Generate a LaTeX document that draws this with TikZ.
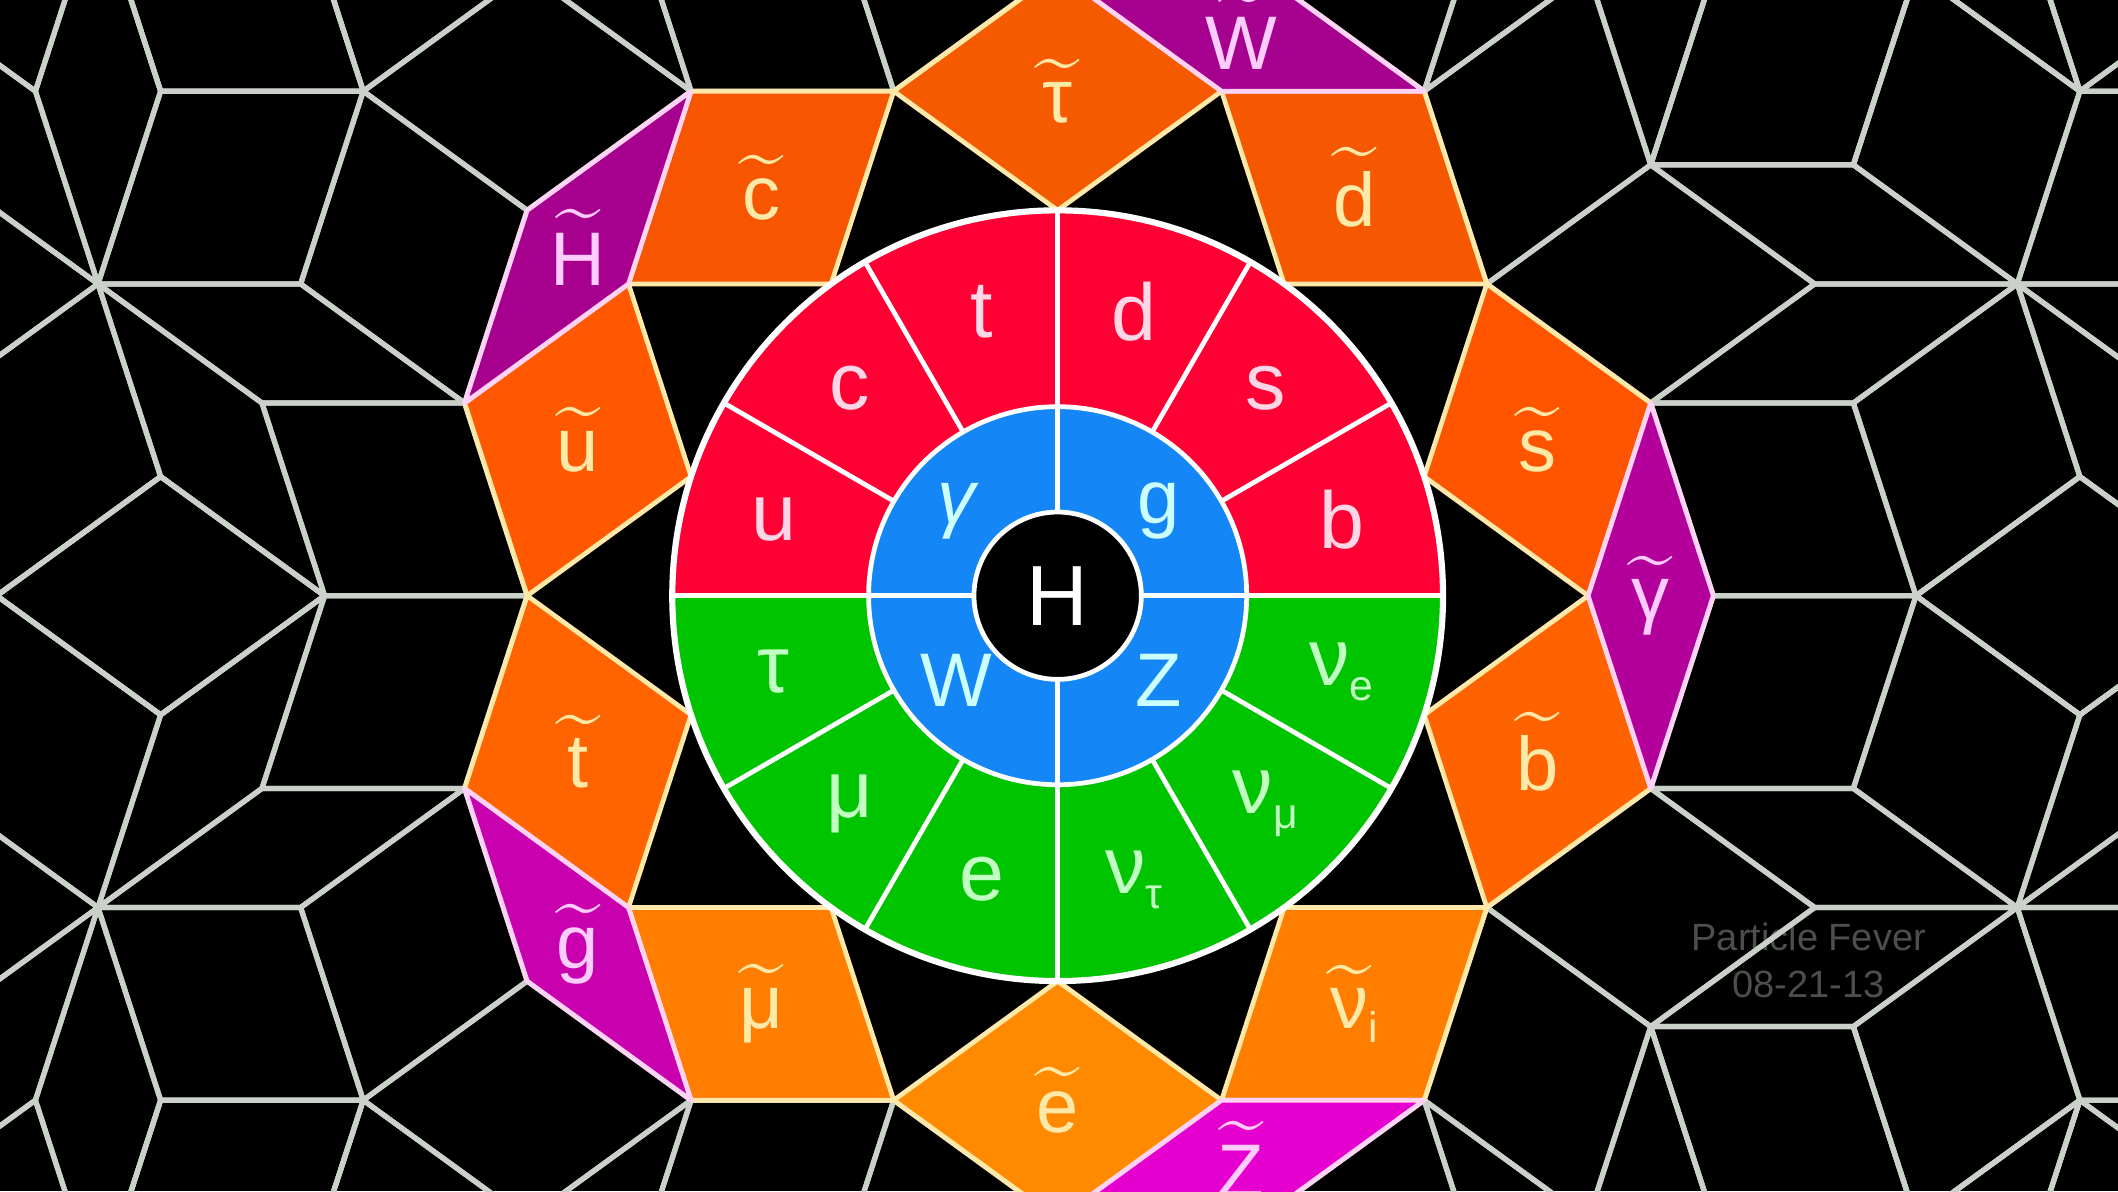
\documentclass[tikz,border=0pt]{standalone}
\usepackage{amsmath}
\usepackage{fontspec}
\setmainfont{Liberation Sans}

\definecolor{bgline}{HTML}{C9D1C9}
\definecolor{quarkred}{HTML}{FF0035}
\definecolor{leptongreen}{HTML}{00C400}
\definecolor{bosonblue}{HTML}{1486F5}
\definecolor{sqtrim}{HTML}{FFE8A8}
\definecolor{inotrim}{HTML}{FFD2F6}
\definecolor{sqtext}{HTML}{FFE9A6}
\definecolor{inotext}{HTML}{FFCCFF}
\definecolor{quarktext}{HTML}{FFD6E6}
\definecolor{leptontext}{HTML}{C2FFC2}
\definecolor{bosontext}{HTML}{CCFFFF}
\definecolor{wmgray}{HTML}{4B504B}
% squark and slepton tiles, top to bottom
\definecolor{sq18}{HTML}{FF5500}
\definecolor{sq54}{HTML}{F55800}
\definecolor{sq90}{HTML}{F55A00}
\definecolor{sq126}{HTML}{F85500}
\definecolor{sq162}{HTML}{FF5800}
\definecolor{sq198}{HTML}{FF6400}
\definecolor{sq234}{HTML}{FF7E00}
\definecolor{sq270}{HTML}{FF8A00}
\definecolor{sq306}{HTML}{FF7E00}
\definecolor{sq342}{HTML}{FF6200}
% gaugino and higgsino tiles
\definecolor{ino0}{HTML}{B3009B}
\definecolor{ino72}{HTML}{A6008E}
\definecolor{ino144}{HTML}{A8008E}
\definecolor{ino216}{HTML}{C800AE}
\definecolor{ino288}{HTML}{E600CF}

\newcommand{\lowsub}[1]{\raisebox{-0.35ex}{\fontsize{9}{9}\selectfont #1}}
\newcommand{\sptl}[1]{$\widetilde{\hbox{#1}}$}

\tikzset{
  tileline/.style={draw=bgline, line width=1.1pt, line join=round},
  sfermion/.style={draw=sqtrim, line width=1pt, line join=round},
  ino/.style={draw=inotrim, line width=1pt, line join=round},
  ringline/.style={draw=white, line width=1pt},
  sqlabel/.style={text=sqtext, font=\fontsize{16}{16}\selectfont},
  inolabel/.style={text=inotext, font=\fontsize{16}{16}\selectfont},
  quarklabel/.style={text=quarktext, font=\fontsize{17}{17}\selectfont},
  leptonlabel/.style={text=leptontext, font=\fontsize{17}{17}\selectfont},
  bosonlabel/.style={text=bosontext, font=\fontsize{16}{16}\selectfont},
}

\begin{document}
\begin{tikzpicture}[x=1.5cm, y=1.5cm]
  \useasboundingbox (-5.22,-2.94) rectangle (5.2333,2.94);
  \fill[black] (-5.22,-2.94) rectangle (5.2333,2.94);
  \clip (-5.22,-2.94) rectangle (5.2333,2.94);

  % Watermark
  \node[text=wmgray, font=\fontsize{8}{10}\selectfont, align=center] (credit) at (3.707,-1.80) {Particle Fever\\08-21-13};

  % Background tiling: one tenth of it, turned and mirrored
  \foreach \s in {1,-1}{
    \foreach \r in {0,72,...,288}{
      \begin{scope}[rotate=\r, yscale=\s]
        \foreach \x/\y/\i/\j in {2.1180/1.5388/1/9, 4.7361/1.5388/4/5, 4.7361/1.5388/5/6,
            2.9271/0.9511/0/8, 4.7361/1.5388/6/8, 4.7361/1.5388/8/9, 4.7361/1.5388/9/0,
            4.7361/1.5388/0/2, 4.7361/1.5388/2/4, 3.9271/2.1266/2/5, 5.0451/2.4899/0/1,
            5.0451/2.4899/1/3, 5.0451/2.4899/3/4, 4.2361/0/1/9, 5.5451/0.9511/0/8}
          \draw[tileline] (\x,\y) -- ++(36*\i:1) -- ++(36*\j:1) -- ++(36*\i+180:1) -- cycle;
      \end{scope}
    }
  }

  % Squarks and sleptons (fat tiles)
  \foreach \a/\lab in {18/{\sptl{s}}, 54/{\sptl{d}}, 90/{\sptl{τ}}, 126/{\sptl{c}}, 162/{\sptl{u}},
      198/{\sptl{t}}, 234/{\sptl{μ}}, 270/{\sptl{e}}, 306/{\sptl{ν}\lowsub{i}}, 342/{\sptl{b}}}{
    \filldraw[sfermion, fill=sq\a] (\a:1.902113) -- ++(\a+54:1) -- ++(\a-54:1) -- ++(\a+234:1) -- cycle;
    \node[sqlabel] (sq-\a) at (\a:2.489898) {\lab};
  }

  % Gauginos and higgsino (thin tiles)
  \foreach \a/\lab in {0/{\sptl{γ}}, 72/{\sptl{W}}, 144/{\sptl{H}}, 216/{\sptl{g}}, 288/{\sptl{Z}}}{
    \filldraw[ino, fill=ino\a] (\a:2.618034) -- ++(\a+72:1) -- ++(\a-72:1) -- ++(\a+252:1) -- cycle;
    \node[inolabel] (ino-\a) at (\a:2.927051) {\lab};
  }

  % Quarks, leptons, bosons
  \fill[quarkred] (0:1.902) arc[start angle=0, end angle=180, radius=1.902] -- cycle;
  \fill[leptongreen] (180:1.902) arc[start angle=180, end angle=360, radius=1.902] -- cycle;
  \fill[bosonblue] (0,0) circle (0.933);
  \fill[black] (0,0) circle (0.413);
  \foreach \a in {30,60,120,150,210,240,300,330}
    \draw[ringline] (\a:0.933) -- (\a:1.902);
  \foreach \a in {0,90,180,270}
    \draw[ringline] (\a:0.413) -- (\a:1.902);
  \draw[ringline] (0,0) circle (0.933) (0,0) circle (0.413);
  \draw[ringline, line width=1.3pt] (0,0) circle (1.902);

  \foreach \a/\lab in {15/b, 45/s, 75/d, 105/t, 135/c, 165/u}
    \node[quarklabel] (q-\a) at (\a:1.45) {\lab};
  \foreach \a/\lab in {195/τ, 225/μ, 255/e, 285/{ν\lowsub{τ}}, 315/{ν\lowsub{μ}}, 345/{ν\lowsub{e}}}
    \node[leptonlabel] (l-\a) at (\a:1.45) {\lab};
  \foreach \a/\lab in {40/g, 140/{\itshape γ}, 220/W, 320/Z}
    \node[bosonlabel] (v-\a) at (\a:0.65) {\lab};
  \node[text=white, font=\fontsize{18}{18}\selectfont] (higgs) at (0,0) {H};
\end{tikzpicture}
\end{document}
